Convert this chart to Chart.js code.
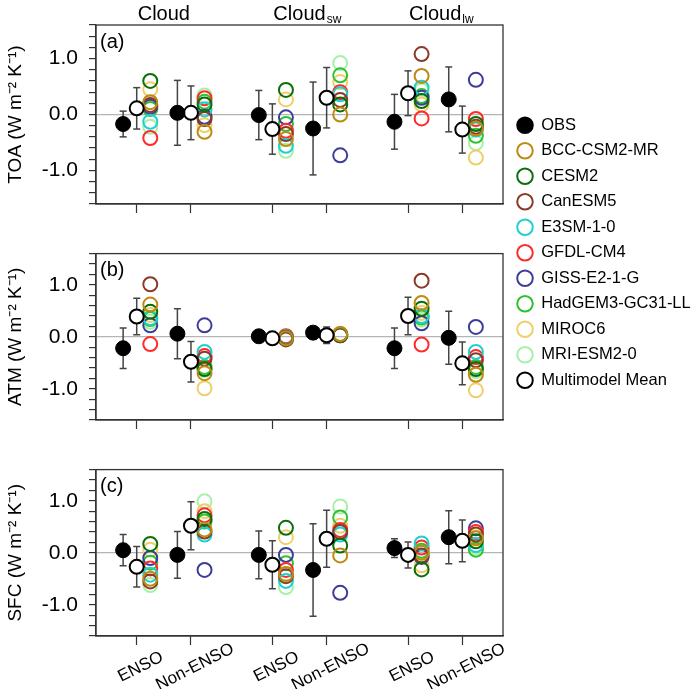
<!DOCTYPE html>
<html>
<head>
<meta charset="utf-8">
<script src="https://cdn.jsdelivr.net/npm/chart.js@4.4.1/dist/chart.umd.min.js"></script>
<style>
  html, body { margin: 0; padding: 0; background: #fff; }
  #wrap { position: relative; width: 700px; height: 689px; overflow: hidden; }
  .box { position: absolute; left: 0; width: 700px; }
</style>
</head>
<body>
<div id="wrap">
  <div class="box" style="top:0;height:230px"><canvas id="panelA"></canvas></div>
  <div class="box" style="top:230px;height:216px"><canvas id="panelB"></canvas></div>
  <div class="box" style="top:446px;height:243px"><canvas id="panelC"></canvas></div>
  <div class="box" style="left:508px;top:108px;width:420px;height:300px"><canvas id="legend"></canvas></div>
</div>
<script>
// groups: Cloud ENSO, Cloud Non-ENSO, Cloud_sw ENSO, Cloud_sw Non-ENSO, Cloud_lw ENSO, Cloud_lw Non-ENSO
const groupTicks = [3, 7, 13, 17, 23, 27];
const groupTickLabels = ["ENSO", "Non-ENSO", "ENSO", "Non-ENSO", "ENSO", "Non-ENSO"];
const yLabelTicks = [-1, 0, 1];
const titleWords = ["Cloud", "Cloud", "Cloud"];
const titleSubs = ["", "sw", "lw"];
const panelNames = ["TOA", "ATM", "SFC"];
const panelTags = ["(a)", "(b)", "(c)"];

const modelNames = ["BCC-CSM2-MR", "CESM2", "CanESM5", "E3SM-1-0", "GFDL-CM4",
  "GISS-E2-1-G", "HadGEM3-GC31-LL", "MIROC6", "MRI-ESM2-0"];
const modelColors = ["#bd8a12", "#0b6e0b", "#8b3a2a", "#1fd0d0", "#ff2a2a",
  "#3d3d99", "#2ec22e", "#eecf6a", "#a8f0a8"];

// (a) TOA
const obsTOA = [-0.17, 0.03, -0.01, -0.25, -0.13, 0.27];
const obsErrTOA = [0.23, 0.58, 0.44, 0.83, 0.49, 0.58];
const mmmTOA = [0.11, 0.03, -0.26, 0.30, 0.38, -0.27];
const mmmErrTOA = [0.37, 0.48, 0.45, 0.54, 0.40, 0.42];
const modelsTOA = [
  [0.22, -0.31, -0.44, 0.00, 0.69, -0.25],
  [0.60, 0.18, 0.44, 0.18, 0.24, -0.17],
  [0.17, -0.08, -0.35, 0.26, 1.08, -0.22],
  [-0.13, 0.09, -0.56, 0.36, 0.48, -0.27],
  [-0.42, 0.29, -0.29, 0.40, -0.07, -0.08],
  [0.14, -0.04, -0.05, -0.73, 0.30, 0.62],
  [0.10, 0.23, -0.17, 0.70, 0.33, -0.38],
  [0.45, -0.19, 0.27, 0.58, 0.18, -0.77],
  [-0.22, 0.34, -0.65, 0.92, 0.43, -0.51]
];

// (b) ATM
const obsATM = [-0.22, 0.06, 0.01, 0.08, -0.22, -0.02];
const obsErrATM = [0.39, 0.48, 0.04, 0.04, 0.39, 0.51];
const mmmATM = [0.39, -0.48, -0.03, 0.03, 0.40, -0.51];
const mmmErrATM = [0.35, 0.39, 0.05, 0.16, 0.36, 0.41];
const modelsATM = [
  [0.62, -0.70, -0.03, 0.05, 0.65, -0.73],
  [0.48, -0.62, -0.02, 0.04, 0.54, -0.62],
  [1.01, -0.42, -0.05, 0.03, 1.08, -0.45],
  [0.36, -0.29, -0.01, 0.04, 0.40, -0.29],
  [-0.14, -0.37, 0.01, 0.05, -0.15, -0.39],
  [0.22, 0.22, -0.03, 0.03, 0.26, 0.19],
  [0.34, -0.58, -0.02, 0.04, 0.37, -0.58],
  [0.42, -0.99, 0.00, 0.06, 0.46, -1.03],
  [0.29, -0.64, -0.01, 0.03, 0.33, -0.66]
];

// (c) SFC
const obsSFC = [0.05, -0.04, -0.04, -0.33, 0.09, 0.30];
const obsErrSFC = [0.30, 0.45, 0.46, 0.89, 0.18, 0.51];
const mmmSFC = [-0.27, 0.52, -0.23, 0.27, -0.04, 0.23];
const mmmErrSFC = [0.39, 0.46, 0.46, 0.55, 0.25, 0.40];
const modelsSFC = [
  [-0.50, 0.45, -0.41, -0.05, 0.00, 0.28],
  [0.17, 0.65, 0.48, 0.14, -0.32, 0.22],
  [-0.55, 0.41, -0.45, 0.40, -0.05, 0.35],
  [-0.42, 0.35, -0.54, 0.35, 0.18, 0.15],
  [-0.30, 0.72, -0.33, 0.44, 0.10, 0.40],
  [-0.10, -0.33, -0.04, -0.77, -0.08, 0.47],
  [-0.19, 0.60, -0.20, 0.68, 0.04, 0.06],
  [0.06, 0.80, 0.30, 0.52, -0.24, 0.30],
  [-0.62, 0.99, -0.66, 0.89, 0.00, 0.10]
];

const FONT = '"Liberation Sans", Arial, Helvetica, sans-serif';
Chart.defaults.font.family = FONT;
Chart.defaults.color = "#000";

// minor ticks every 0.2 between -1.6 and 1.6
const yTickValues = [];
for (let k = -8; k <= 8; k++) yTickValues.push(k / 5);

function points(vals, dx) {
  return vals.map((v, i) => ({ x: groupTicks[i] + dx, y: v }));
}

// pairs of end points split by gaps, one vertical bar per group
function errorBars(vals, errs, dx) {
  const out = [];
  vals.forEach((v, i) => {
    const x = groupTicks[i] + dx;
    out.push({ x: x, y: v - errs[i] }, { x: x, y: v + errs[i] }, { x: x, y: null });
  });
  return out;
}

const framePlugin = {
  id: "frame",
  afterDraw(chart) {
    const { ctx, chartArea: a } = chart;
    ctx.save();
    ctx.strokeStyle = "#333";
    ctx.lineWidth = 1.3;
    ctx.strokeRect(a.left, a.top, a.right - a.left, a.bottom - a.top);
    ctx.restore();
  }
};

function tagPlugin(text) {
  return {
    id: "tag",
    afterDraw(chart) {
      const { ctx, chartArea: a } = chart;
      ctx.save();
      ctx.font = "20px " + FONT;
      ctx.fillStyle = "#000";
      ctx.textBaseline = "middle";
      ctx.fillText(text, a.left + 4, a.top + 17);
      ctx.restore();
    }
  };
}

const titlesPlugin = {
  id: "groupTitles",
  afterDraw(chart) {
    const { ctx } = chart;
    const xs = chart.scales.x;
    ctx.save();
    ctx.fillStyle = "#000";
    for (let j = 0; j < 3; j++) {
      const cx = xs.getPixelForValue((groupTicks[2 * j] + groupTicks[2 * j + 1]) / 2);
      ctx.font = "20px " + FONT;
      ctx.textAlign = "center";
      ctx.textBaseline = "alphabetic";
      const w = ctx.measureText(titleWords[j]).width;
      ctx.fillText(titleWords[j], cx, 20);
      if (titleSubs[j]) {
        ctx.font = "12px " + FONT;
        ctx.textAlign = "left";
        ctx.fillText(titleSubs[j], cx + w / 2 + 1, 23);
      }
    }
    ctx.restore();
  }
};

const xLabelsPlugin = {
  id: "xLabels",
  afterDraw(chart) {
    const { ctx, chartArea: a } = chart;
    const xs = chart.scales.x;
    ctx.save();
    ctx.font = "17px " + FONT;
    ctx.fillStyle = "#000";
    ctx.textAlign = "center";
    ctx.textBaseline = "middle";
    groupTicks.forEach((t, i) => {
      ctx.save();
      ctx.translate(xs.getPixelForValue(t) + 4, a.bottom + 31);
      ctx.rotate(-27 * Math.PI / 180);
      ctx.fillText(groupTickLabels[i], 0, 0);
      ctx.restore();
    });
    ctx.restore();
  }
};

function makePanel(id, idx, obs, obsErr, mmm, mmmErr, models, padTop, axisH, extra) {
  const datasets = [];
  datasets.push({
    label: "OBS", data: points(obs, -1), order: 0,
    pointRadius: 7.5, pointBackgroundColor: "#000", pointBorderColor: "#000", pointBorderWidth: 1
  });
  datasets.push({
    label: "Multimodel Mean", data: points(mmm, 0), order: 0,
    pointRadius: 7, pointBackgroundColor: "#fff", pointBorderColor: "#000", pointBorderWidth: 2
  });
  models.forEach((vals, m) => {
    datasets.push({
      label: modelNames[m], data: points(vals, 1), order: 1,
      pointRadius: 7, pointBackgroundColor: "rgba(0,0,0,0)",
      pointBorderColor: modelColors[m], pointBorderWidth: 2
    });
  });
  [[obs, obsErr, -1], [mmm, mmmErr, 0]].forEach(([v, e, dx]) => {
    datasets.push({
      label: "error", data: errorBars(v, e, dx), order: 5,
      showLine: true, spanGaps: false, borderColor: "#444", borderWidth: 1.5,
      pointStyle: "line", pointRadius: 3.5, pointBorderColor: "#444", pointBorderWidth: 1.5
    });
  });

  return new Chart(document.getElementById(id), {
    type: "scatter",
    data: { datasets: datasets },
    plugins: [framePlugin, tagPlugin(panelTags[idx])].concat(extra),
    options: {
      responsive: true,
      maintainAspectRatio: false,
      animation: false,
      events: [],
      layout: { padding: { left: 0, right: 197, top: padTop, bottom: 0 } },
      plugins: { legend: { display: false }, tooltip: { enabled: false } },
      scales: {
        x: {
          type: "linear", min: 0, max: 30,
          afterBuildTicks: (s) => { s.ticks = groupTicks.map((v) => ({ value: v })); },
          afterFit: (s) => { s.height = axisH; },
          ticks: { display: false },
          grid: { drawOnChartArea: false, tickLength: 9, tickColor: "#333", tickWidth: 1.2 },
          border: { color: "#333", width: 1.3 }
        },
        y: {
          type: "linear", min: -1.6, max: 1.6,
          afterBuildTicks: (s) => { s.ticks = yTickValues.map((v) => ({ value: v })); },
          afterFit: (s) => { s.width = 96; },
          ticks: {
            autoSkip: false, padding: 11, font: { size: 21 }, color: "#000",
            callback: (v) => (yLabelTicks.some((t) => Math.abs(t - v) < 1e-6) ? Number(v).toFixed(1) : "")
          },
          grid: {
            color: (c) => (c.tick && Math.abs(c.tick.value) < 1e-6 ? "#b5b5b5" : "rgba(0,0,0,0)"),
            lineWidth: 1.2, tickLength: 7, tickColor: "#333", tickWidth: 1.2
          },
          border: { color: "#333", width: 1.3 },
          title: {
            display: true, text: panelNames[idx] + " (W m\u207B\u00B2 K\u207B\u00B9)",
            font: { size: 19 }, color: "#000", padding: { top: 4, bottom: 4 }
          }
        }
      }
    }
  });
}

makePanel("panelA", 0, obsTOA, obsErrTOA, mmmTOA, mmmErrTOA, modelsTOA, 25, 26, [titlesPlugin]);
makePanel("panelB", 1, obsATM, obsErrATM, mmmATM, mmmErrATM, modelsATM, 12, 26, []);
makePanel("panelC", 2, obsSFC, obsErrSFC, mmmSFC, mmmErrSFC, modelsSFC, 11, 53, [xLabelsPlugin]);

// legend only
const legendSets = [{ label: "OBS", data: [], pointStyle: "circle", backgroundColor: "#000", borderColor: "#000", borderWidth: 2 }];
modelNames.forEach((n, m) => {
  legendSets.push({ label: n, data: [], pointStyle: "circle", backgroundColor: "rgba(0,0,0,0)", borderColor: modelColors[m], borderWidth: 2 });
});
legendSets.push({ label: "Multimodel Mean", data: [], pointStyle: "circle", backgroundColor: "rgba(0,0,0,0)", borderColor: "#000", borderWidth: 2 });

new Chart(document.getElementById("legend"), {
  type: "scatter",
  data: { datasets: legendSets },
  options: {
    responsive: true,
    maintainAspectRatio: false,
    animation: false,
    events: [],
    layout: { padding: 0 },
    scales: { x: { display: false }, y: { display: false } },
    plugins: {
      tooltip: { enabled: false },
      legend: {
        position: "left", align: "start",
        labels: {
          usePointStyle: true, boxWidth: 16, boxHeight: 11, padding: 9,
          font: { size: 16.5 }, color: "#000"
        }
      }
    }
  }
});
</script>
</body>
</html>
